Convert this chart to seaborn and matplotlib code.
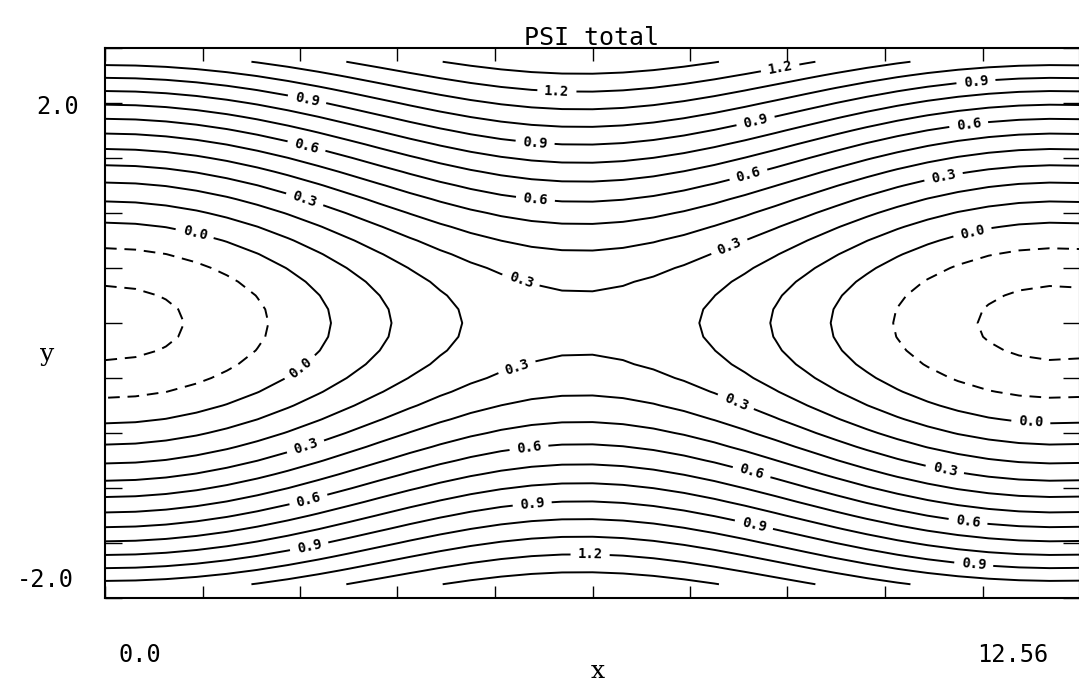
import numpy as np
import matplotlib
matplotlib.use("Agg")
import matplotlib.pyplot as plt
import seaborn as sns

# ---- domain ---------------------------------------------------------------
x_range = [0.0, 12.56]          # periodic direction
y_range = [-2.0, 2.0]           # plotting frame in y
y_grid_edge = 1.9               # last grid row of the solution
grid_shape = [33, 39]           # (nx, ny) of the coarse solution grid

# ---- stream function: current sheet plus magnetic-island perturbation -----
sheet_width = 1.03              # Harris-sheet half width
psi_offset = 0.02               # additive constant of PSI
island_amp = 0.255              # perturbation amplitude at the sheet centre
wall_decay = 2.5                # perturbation vanishes towards |y| = wall_decay
wavelength = 12.26              # wavelength of the tearing perturbation

# ---- contouring ------------------------------------------------------------
plain_levels = [-0.2, -0.1, 0.1, 0.2, 0.4, 0.5, 0.7, 0.8, 1.0, 1.1, 1.3, 1.4]
labeled_levels = [0.0, 0.3, 0.6, 0.9, 1.2]

# anchor points (x, y) for the inline contour labels
label_anchors = [
    (2.60, 1.62), (2.60, 1.295), (2.60, 0.945), (1.16, 0.662),
    (5.82, 1.673), (5.54, 1.309), (5.54, 0.873), (5.35, 0.298),
    (8.72, 1.789), (8.40, 1.425), (8.31, 1.04), (8.09, 0.495),
    (11.23, 1.695), (11.14, 1.382), (10.82, 1.018), (11.18, 0.647),
    (2.51, -0.32), (2.60, -0.924), (2.64, -1.324), (2.64, -1.651),
    (5.31, -0.327), (5.47, -0.938), (5.51, -1.375), (6.25, -1.745),
    (8.05, -0.669), (8.27, -1.193), (8.31, -1.578),
    (11.92, -0.778), (10.78, -1.164), (11.10, -1.52), (11.18, -1.818),
]

sns.set_theme(style="white")
plt.rcParams["font.family"] = ["DejaVu Sans Mono"]
plt.rcParams["text.color"] = "black"

W, H, DPI = 1079, 689, 100
fig = plt.figure(figsize=(W / DPI, H / DPI), dpi=DPI)
ax = fig.add_axes([105 / W, 1 - 598 / H, 975 / W, 550 / H])

x = np.linspace(x_range[0], x_range[1], grid_shape[0])
y = np.linspace(-y_grid_edge, y_grid_edge, grid_shape[1])
Xg, Yg = np.meshgrid(x, y)
envelope = 1.0 - (Yg / wall_decay) ** 4
psi = (np.log(np.cosh(Yg / sheet_width)) + psi_offset
       - island_amp * envelope * np.cos(2 * np.pi * Xg / wavelength))


def line_styles(levels):
    return [(0, (6, 4)) if lv < 0 else "solid" for lv in levels]


ax.contour(Xg, Yg, psi, levels=plain_levels, colors="black",
           linewidths=1.4, linestyles=line_styles(plain_levels))
cs = ax.contour(Xg, Yg, psi, levels=labeled_levels, colors="black",
                linewidths=1.4, linestyles=line_styles(labeled_levels))
ax.clabel(cs, inline=True, inline_spacing=7,
          fmt=lambda v: f"{abs(v):.1f}" if abs(v) < 1e-9 else f"{v:.1f}",
          fontsize=10, manual=label_anchors)
for t in cs.labelTexts:
    t.set_fontweight("bold")
    t.set_color("black")

ax.set_xlim(*x_range)
ax.set_ylim(*y_range)
ax.set_xticks(np.linspace(x_range[0], x_range[1], 11))
ax.set_yticks(np.linspace(y_range[0], y_range[1], 11))
ax.tick_params(axis="x", direction="in", length=9, width=1.0, color="black",
               top=True, bottom=True, labelbottom=False)
ax.tick_params(axis="y", direction="in", length=12, width=1.0, color="black",
               left=True, right=True, labelleft=False)
for sp in ax.spines.values():
    sp.set_color("black")
    sp.set_linewidth(1.5)
ax.set_xlabel("")
ax.set_ylabel("")


# frame annotations
def fig_text(px, py, s, **kw):
    fig.text(px / W, 1 - py / H, s, ha="center", va="center",
             color="black", **kw)


fig_text(591, 38, "PSI total", fontsize=18)
fig_text(140, 655, f"{x_range[0]:.1f}", fontsize=17)
fig_text(1013, 655, f"{x_range[1]:.2f}", fontsize=17)
fig_text(58, 107, f"{y_range[1]:.1f}", fontsize=17)
fig_text(45, 580, f"{y_range[0]:.1f}", fontsize=17)
fig_text(598, 672, "x", fontsize=18, family="DejaVu Serif")
fig_text(47, 355, "y", fontsize=18, family="DejaVu Serif")

fig.savefig("out.png", dpi=DPI, facecolor="white")
